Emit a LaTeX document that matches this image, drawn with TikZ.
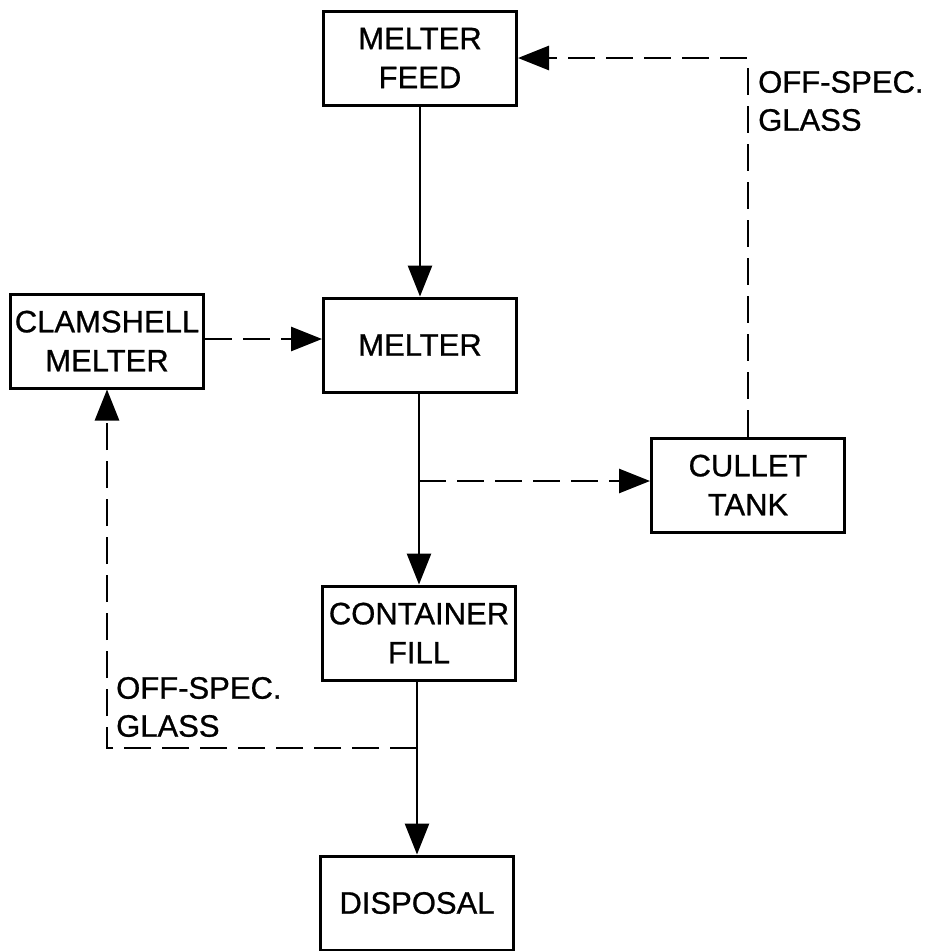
\documentclass[tikz,border=0pt]{standalone}
\usepackage{fontspec}
\setmainfont{Liberation Sans}[FakeBold=0.8,BoldFont=Liberation Sans,AutoFakeBold=0.8]
\usetikzlibrary{arrows.meta}
\tikzset{
  procbox/.style={draw, line width=3pt, minimum width=193pt, minimum height=94pt,
    inner sep=0pt, align=center, font=\fontsize{31pt}{39pt}\selectfont\bfseries},
  flow/.style={line width=2.8pt, -{Triangle[length=31pt,width=24pt]}},
  dashflow/.style={flow, dash pattern=on 27pt off 11pt},
  lbl/.style={inner sep=0pt, align=left, anchor=west, font=\fontsize{31pt}{38pt}\selectfont\bfseries}
}
\begin{document}
\begin{tikzpicture}[x=1pt,y=-1pt]
\useasboundingbox[fill=white] (0,0) rectangle (931,951);
\node[procbox] (feed) at (420,58) {MELTER\\FEED};
\node[procbox] (melter) at (420,345) {MELTER};
\node[procbox] (clam) at (107,341) {CLAMSHELL\\MELTER};
\node[procbox] (cullet) at (748,485) {CULLET\\TANK};
\node[procbox] (fill) at (419,633) {CONTAINER\\FILL};
\node[procbox] (disp) at (417,903) {DISPOSAL};
\node[lbl] (lblA) at (758,101) {OFF-SPEC.\\GLASS};
\node[lbl] (lblB) at (116,707) {OFF-SPEC.\\GLASS};
\coordinate (br) at (419,481);
\coordinate (jn) at (417,748);
\draw[flow] (feed.south) -- (feed.south |- melter.north);
\draw[line width=2.8pt] (melter.south -| br) -- (br);
\draw[flow] (br) -- (br |- fill.north);
\draw[line width=2.8pt] (fill.south -| jn) -- (jn);
\draw[flow] (jn) -- (jn |- disp.north);
\draw[dashflow] (br) -- (br -| cullet.west);
\draw[dashflow] (cullet.north) |- (feed.east);
\draw[dashflow] (clam.east |- 0,339) -- (melter.west |- 0,339);
\draw[dashflow] (jn) -| (clam.south);
\end{tikzpicture}
\end{document}
